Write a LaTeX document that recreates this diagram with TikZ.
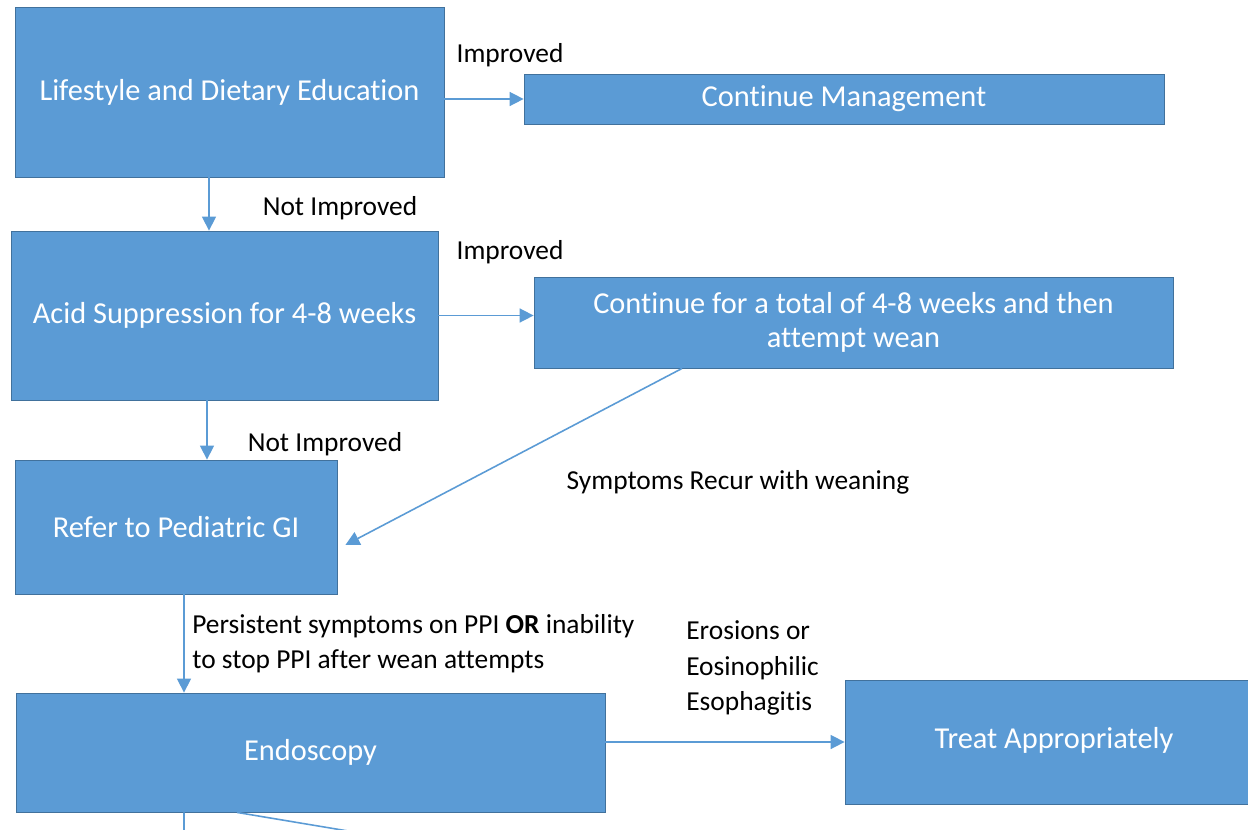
\documentclass[tikz,border=0pt]{standalone}
\usepackage{fontspec}
\setmainfont[Ligatures=NoCommon]{Carlito}
\usetikzlibrary{arrows.meta}
\definecolor{boxblue}{HTML}{5B9BD5}
\definecolor{boxedge}{HTML}{41719C}

\begin{document}
\begin{tikzpicture}[x=0.02cm, y=-0.02cm,
        >={Triangle[length=8pt,width=8pt]},
        box/.style={draw=boxedge, line width=0.5pt, fill=boxblue, text=white, align=center,
            font=\fontsize{17.3}{19}\selectfont, inner sep=0pt},
        lbl/.style={font=\fontsize{15.6}{20}\selectfont, align=left, inner sep=0pt},
        link/.style={draw=boxblue, line width=0.9pt}]
        \useasboundingbox (0,0) rectangle (1248,829);
        % boxes
        \node[box, minimum width=8.58cm, minimum height=3.4cm] (life) at (229.5,92) {Lifestyle and Dietary Education};
        \node[box, minimum width=12.8cm, minimum height=1cm] (cont) at (844,99) {Continue Management};
        \node[box, minimum width=8.54cm, minimum height=3.38cm] (acid) at (224.5,315.5) {Acid Suppression for 4-8 weeks};
        \node[box, minimum width=12.78cm, minimum height=1.82cm] (wean) at (853.5,322.5) {Continue for a total of 4-8 weeks and then\\attempt wean};
        \node[box, minimum width=6.44cm, minimum height=2.68cm] (refer) at (176,527) {Refer to Pediatric GI};
        \node[box, minimum width=11.78cm, minimum height=2.38cm] (endo) at (310.5,752.5) {Endoscopy};
        \node[box, minimum width=8.36cm, minimum height=2.48cm] (treat) at (1054,742) {\raisebox{0.16cm}{Treat Appropriately}};
        % labels
        \node[lbl] (imp1) at (510,55) {Improved};
        \node[lbl] (notimp1) at (340,208) {Not Improved};
        \node[lbl] (imp2) at (510,252) {Improved};
        \node[lbl] (notimp2) at (325,444) {Not Improved};
        \node[lbl] (recur) at (738,482) {Symptoms Recur with weaning};
        \node[lbl, anchor=west] (persist) at (192,644) {Persistent symptoms on PPI \textbf{OR} inability\\to stop PPI after wean attempts};
        \node[lbl, anchor=west] (eros) at (686,668) {Erosions or\\Eosinophilic\\Esophagitis};
        % connectors
        \draw[link, ->] (life.east |- cont.west) -- (cont.west);
        \draw[link, ->] ([xshift=-0.41cm]life.south) -- ([xshift=-0.41cm]life.south |- acid.north);
        \draw[link, ->] (acid.east) -- (acid.east -| wean.west);
        \draw[link, ->] ([xshift=-0.35cm]acid.south) -- ([xshift=-0.35cm]acid.south |- refer.north);
        \draw[link, ->] ([xshift=-3.43cm]wean.south) -- ([shift={(0.16cm,-0.36cm)}]refer.east);
        \draw[link, ->] ([xshift=0.16cm]refer.south) -- ([xshift=0.16cm]refer.south |- endo.north);
        \draw[link, ->] (endo.east |- treat.west) -- (treat.west);
        \coordinate (down) at (184,835);
        \coordinate (off) at (372,835);
        \draw[link] ([xshift=-2.53cm]endo.south) -- (down);
        \draw[link] ([xshift=-1.47cm]endo.south) -- (off);
\end{tikzpicture}
\end{document}
